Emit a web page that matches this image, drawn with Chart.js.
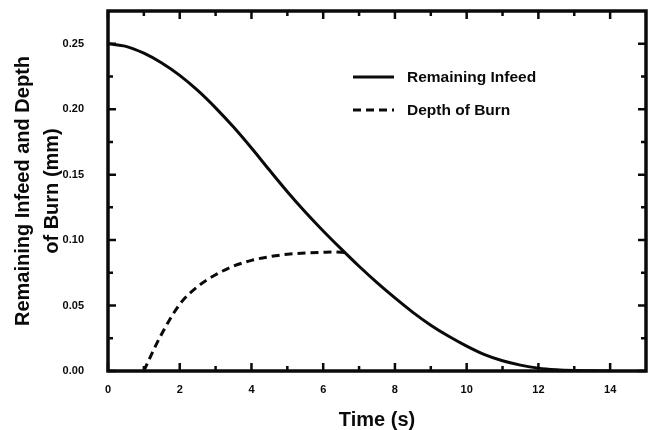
<!DOCTYPE html>
<html>
<head>
<meta charset="utf-8">
<script src="https://cdn.jsdelivr.net/npm/chart.js@4.4.1/dist/chart.umd.min.js"></script>
<style>
  html, body { margin: 0; padding: 0; background: #fff; }
  #wrap { width: 652px; height: 430px; }
</style>
</head>
<body>
<div id="wrap"><canvas id="chart"></canvas></div>
<script>
// Remaining infeed (mm) vs time (s)
const infeedTime = [0, 0.5, 1, 1.5, 2, 2.5, 3, 3.5, 4, 4.5, 5, 5.5, 6, 6.5, 7, 7.5, 8, 8.5, 9, 9.5, 10, 10.5, 11, 11.5, 12, 12.5, 13, 13.5, 14];
const infeedValues = [0.250, 0.248, 0.2428, 0.2353, 0.2258, 0.2143, 0.201, 0.1863, 0.1703, 0.1535, 0.137, 0.1215, 0.107, 0.0933, 0.080, 0.0675, 0.0558, 0.0448, 0.035, 0.0265, 0.019, 0.0125, 0.0078, 0.0045, 0.0022, 0.0010, 0.0004, 0.0001, 0];

// Depth of burn (mm) vs time (s), until it meets the infeed curve
const burnTime = [1, 1.25, 1.5, 2, 2.5, 3, 3.5, 4, 4.5, 5, 5.5, 6, 6.3, 6.6];
const burnValues = [0, 0.0148, 0.0285, 0.051, 0.0645, 0.0735, 0.0801, 0.0845, 0.0873, 0.0892, 0.0902, 0.0907, 0.0909, 0.0905];

// axis ticks
const xMajorTicks = [0, 2, 4, 6, 8, 10, 12, 14];
const xMinorTicks = [1, 3, 5, 7, 9, 11, 13];
const yMajorTicks = [0, 0.05, 0.10, 0.15, 0.20, 0.25];
const yMinorTicks = [0.025, 0.075, 0.125, 0.175, 0.225];

const FONT = '"Liberation Sans", Arial, Helvetica, sans-serif';
const INK = '#0a0a0a';

const toPoints = (xs, ys) => xs.map((x, i) => ({ x: x, y: ys[i] }));

// frame plus inward tick marks on all four sides
const frameTicks = {
    id: 'frameTicks',
    afterDraw(chart) {
        const ctx = chart.ctx;
        const a = chart.chartArea;
        const xs = chart.scales.x, ys = chart.scales.y;
        ctx.save();
        ctx.strokeStyle = INK;
        ctx.lineCap = 'butt';

        ctx.lineWidth = 2.5;
        const tick = (vals, len) => {
            vals.forEach(v => {
                const px = xs.getPixelForValue(v);
                ctx.beginPath();
                ctx.moveTo(px, a.bottom); ctx.lineTo(px, a.bottom - len);
                ctx.moveTo(px, a.top); ctx.lineTo(px, a.top + len);
                ctx.stroke();
            });
        };
        const ytick = (vals, len) => {
            vals.forEach(v => {
                const py = ys.getPixelForValue(v);
                ctx.beginPath();
                ctx.moveTo(a.left, py); ctx.lineTo(a.left + len, py);
                ctx.moveTo(a.right, py); ctx.lineTo(a.right - len, py);
                ctx.stroke();
            });
        };
        tick(xMajorTicks, 8);
        tick(xMinorTicks, 5);
        ytick(yMajorTicks, 8);
        ytick(yMinorTicks, 5);

        ctx.lineWidth = 3.5;
        ctx.strokeRect(a.left, a.top, a.right - a.left, a.bottom - a.top);
        ctx.restore();
    }
};

// legend drawn inside the plot, one row per dataset
const innerLegend = {
    id: 'innerLegend',
    afterDraw(chart, args, opts) {
        const ctx = chart.ctx;
        ctx.save();
        ctx.font = 'bold 15.5px ' + FONT;
        ctx.textBaseline = 'middle';
        ctx.fillStyle = INK;
        chart.data.datasets.forEach((ds, i) => {
            const y = opts.y + i * opts.rowGap;
            ctx.strokeStyle = ds.borderColor;
            ctx.lineWidth = ds.borderWidth;
            ctx.setLineDash(ds.borderDash || []);
            ctx.beginPath();
            ctx.moveTo(opts.x, y);
            ctx.lineTo(opts.x + opts.lineLen, y);
            ctx.stroke();
            ctx.fillText(ds.label, opts.x + opts.lineLen + 13, y + 1);
        });
        ctx.restore();
    }
};

new Chart(document.getElementById('chart'), {
    type: 'line',
    data: {
        datasets: [
            {
                label: 'Remaining Infeed',
                data: toPoints(infeedTime, infeedValues),
                borderColor: INK,
                borderWidth: 3,
                pointRadius: 0,
                cubicInterpolationMode: 'monotone'
            },
            {
                label: 'Depth of Burn',
                data: toPoints(burnTime, burnValues),
                borderColor: INK,
                borderWidth: 3,
                borderDash: [8, 5],
                pointRadius: 0,
                cubicInterpolationMode: 'monotone'
            }
        ]
    },
    options: {
        responsive: true,
        maintainAspectRatio: false,
        animation: false,
        layout: { padding: { top: 11, right: 6, left: 0, bottom: 0 } },
        scales: {
            x: {
                type: 'linear',
                min: 0,
                max: 15,
                grid: { display: false },
                border: { display: false },
                ticks: {
                    stepSize: 2,
                    includeBounds: false,
                    padding: 4,
                    color: INK,
                    maxRotation: 0,
                    font: { family: FONT, size: 11, weight: 'bold' }
                },
                title: {
                    display: true,
                    text: 'Time (s)',
                    color: INK,
                    padding: { top: 0, bottom: 0 },
                    font: { family: FONT, size: 20, weight: 'bold', lineHeight: 1 }
                },
                afterFit(scale) {
                    scale.height = 59;
                    scale.paddingLeft = 0;
                    scale.paddingRight = 0;
                }
            },
            y: {
                min: 0,
                max: 0.275,
                grid: { display: false },
                border: { display: false },
                ticks: {
                    stepSize: 0.05,
                    includeBounds: false,
                    padding: 16,
                    color: INK,
                    font: { family: FONT, size: 11, weight: 'bold' },
                    callback: v => v.toFixed(2)
                },
                title: {
                    display: true,
                    text: ['Remaining Infeed and Depth', 'of Burn (mm)'],
                    color: INK,
                    padding: { top: 9, bottom: 0 },
                    font: { family: FONT, size: 20, weight: 'bold', lineHeight: 1.45 }
                },
                afterFit(scale) {
                    scale.width = 108;
                    scale.paddingTop = 0;
                    scale.paddingBottom = 0;
                }
            }
        },
        plugins: {
            legend: { display: false },
            tooltip: { enabled: false },
            innerLegend: { x: 353, y: 77, rowGap: 33, lineLen: 41 }
        }
    },
    plugins: [frameTicks, innerLegend]
});
</script>
</body>
</html>
